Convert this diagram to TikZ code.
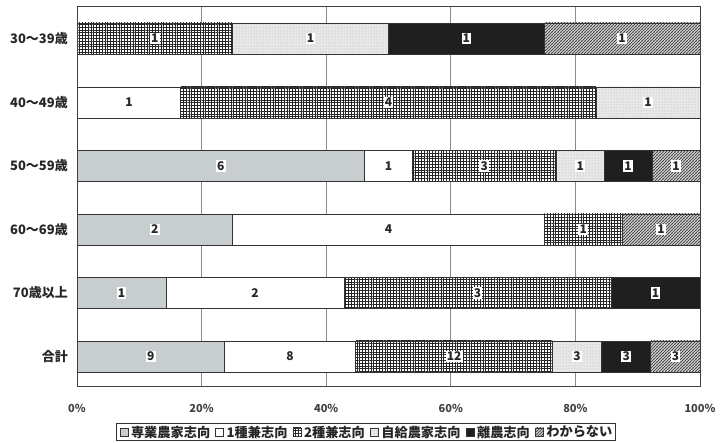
\documentclass[tikz,border=0pt]{standalone}
\usepackage{fontspec}
\setmainfont{Noto Sans CJK JP}
\usetikzlibrary{patterns,positioning,fit}
\definecolor{graybar}{RGB}{200,205,208}
\pgfdeclarepatternformonly{finegrid}{\pgfqpoint{-0.1pt}{-0.1pt}}{\pgfqpoint{2.9pt}{2.9pt}}{\pgfqpoint{2.8pt}{2.8pt}}{%
  \pgfsetlinewidth{0.9pt}%
  \pgfpathmoveto{\pgfqpoint{0pt}{1.4pt}}\pgfpathlineto{\pgfqpoint{2.8pt}{1.4pt}}%
  \pgfpathmoveto{\pgfqpoint{1.4pt}{0pt}}\pgfpathlineto{\pgfqpoint{1.4pt}{2.8pt}}%
  \pgfusepath{stroke}}
\pgfdeclarepatternformonly{finehatch}{\pgfqpoint{-1pt}{-1pt}}{\pgfqpoint{4pt}{4pt}}{\pgfqpoint{3pt}{3pt}}{%
  \pgfsetlinewidth{1pt}%
  \pgfpathmoveto{\pgfqpoint{-0.5pt}{-0.5pt}}\pgfpathlineto{\pgfqpoint{3.5pt}{3.5pt}}%
  \pgfusepath{stroke}}
\pgfdeclarepatternformonly{speckle}{\pgfqpoint{0pt}{0pt}}{\pgfqpoint{2.5pt}{2.5pt}}{\pgfqpoint{2.5pt}{2.5pt}}{%
  \pgfpathcircle{\pgfqpoint{1.25pt}{1.25pt}}{0.55pt}\pgfusepath{fill}}
\tikzset{
  segbox/.style={draw=black!80, line width=0.9pt},
  fullt/.style={fill=graybar},
  partone/.style={fill=white},
  parttwo/.style={preaction={fill=white}, pattern=finegrid, pattern color=black!85},
  selfs/.style={preaction={fill=black!9}, pattern=speckle, pattern color=black!35},
  quitf/.style={fill=black!88},
  unkn/.style={preaction={fill=black!8}, pattern=finehatch, pattern color=black!70},
  numlab/.style={fill=white, inner sep=1.2pt, font=\bfseries\fontsize{12}{12}\selectfont, text=black!85},
  catlab/.style={anchor=east, inner sep=0pt, font=\bfseries\fontsize{13}{14}\selectfont, text=black!85},
  ticklab/.style={inner sep=0pt, font=\bfseries\fontsize{11}{11}\selectfont, text=black!75},
  gridl/.style={draw=black!45, line width=0.7pt},
  legsq/.style={segbox, line width=0.6pt, minimum size=8pt, inner sep=0pt},
  legtxt/.style={inner sep=0pt, font=\bfseries\fontsize{13.2}{14}\selectfont, text=black!85},
}
\newcommand\seg[6]{%
  \draw[segbox,#1] (#3,#2-15.5) rectangle (#4,#2+15.5);
  \node[numlab] (#6) at ({(#3+#4)/2},#2) {#5};
}
\begin{document}
\begin{tikzpicture}[x=1pt,y=-1pt]
\useasboundingbox (0,0) rectangle (724,443);
% category labels
\node[catlab] (c1) at (68,38.5) {30～39歳};
\node[catlab] (c2) at (68,102.5) {40～49歳};
\node[catlab] (c3) at (68,166) {50～59歳};
\node[catlab] (c4) at (68,229.5) {60～69歳};
\node[catlab] (c5) at (68,293) {70歳以上};
\node[catlab] (c6) at (68,356.5) {合計};
\begin{scope}[shift={(77,0)}, x=6.23pt]
  \foreach \p in {20,40,60,80} \draw[gridl] (\p,7) -- (\p,387);
  \foreach \p in {0,20,40,60,80,100} \node[ticklab] (tk\p) at (\p,408) {\p\%};
  % row 1
  \seg{parttwo}{38.5}{0}{25}{1}{a3}
  \seg{selfs}{38.5}{25}{50}{1}{a4}
  \seg{quitf}{38.5}{50}{75}{1}{a5}
  \seg{unkn}{38.5}{75}{100}{1}{a6}
  % row 2
  \seg{partone}{102.5}{0}{16.667}{1}{b2}
  \seg{parttwo}{102.5}{16.667}{83.333}{4}{b3}
  \seg{selfs}{102.5}{83.333}{100}{1}{b4}
  % row 3
  \seg{fullt}{166}{0}{46.154}{6}{d1}
  \seg{partone}{166}{46.154}{53.846}{1}{d2}
  \seg{parttwo}{166}{53.846}{76.923}{3}{d3}
  \seg{selfs}{166}{76.923}{84.615}{1}{d4}
  \seg{quitf}{166}{84.615}{92.308}{1}{d5}
  \seg{unkn}{166}{92.308}{100}{1}{d6}
  % row 4
  \seg{fullt}{229.5}{0}{25}{2}{e1}
  \seg{partone}{229.5}{25}{75}{4}{e2}
  \seg{parttwo}{229.5}{75}{87.5}{1}{e3}
  \seg{unkn}{229.5}{87.5}{100}{1}{e6}
  % row 5
  \seg{fullt}{293}{0}{14.286}{1}{f1}
  \seg{partone}{293}{14.286}{42.857}{2}{f2}
  \seg{parttwo}{293}{42.857}{85.714}{3}{f3}
  \seg{quitf}{293}{85.714}{100}{1}{f5}
  % row 6
  \seg{fullt}{356.5}{0}{23.684}{9}{g1}
  \seg{partone}{356.5}{23.684}{44.737}{8}{g2}
  \seg{parttwo}{356.5}{44.737}{76.316}{12}{g3}
  \seg{selfs}{356.5}{76.316}{84.211}{3}{g4}
  \seg{quitf}{356.5}{84.211}{92.105}{3}{g5}
  \seg{unkn}{356.5}{92.105}{100}{3}{g6}
  \draw[draw=black!75, line width=1pt] (0,7) rectangle (100,387);
\end{scope}
% legend
\node[legsq, fullt] (k1) at (124,432) {};
\node[legtxt, right=2.5pt of k1] (t1) {専業農家志向};
\node[legsq, partone, right=5pt of t1] (k2) {};
\node[legtxt, right=2.5pt of k2] (t2) {1種兼志向};
\node[legsq, parttwo, right=5pt of t2] (k3) {};
\node[legtxt, right=2.5pt of k3] (t3) {2種兼志向};
\node[legsq, selfs, right=5pt of t3] (k4) {};
\node[legtxt, right=2.5pt of k4] (t4) {自給農家志向};
\node[legsq, quitf, right=5pt of t4] (k5) {};
\node[legtxt, right=2.5pt of k5] (t5) {離農志向};
\node[legsq, unkn, right=5pt of t5] (k6) {};
\node[legtxt, right=2.5pt of k6] (t6) {わからない};
\node[draw=black!80, line width=0.9pt, fit=(k1)(t1)(t6), inner xsep=3pt, inner ysep=2pt] (legend) {};
\end{tikzpicture}
\end{document}
